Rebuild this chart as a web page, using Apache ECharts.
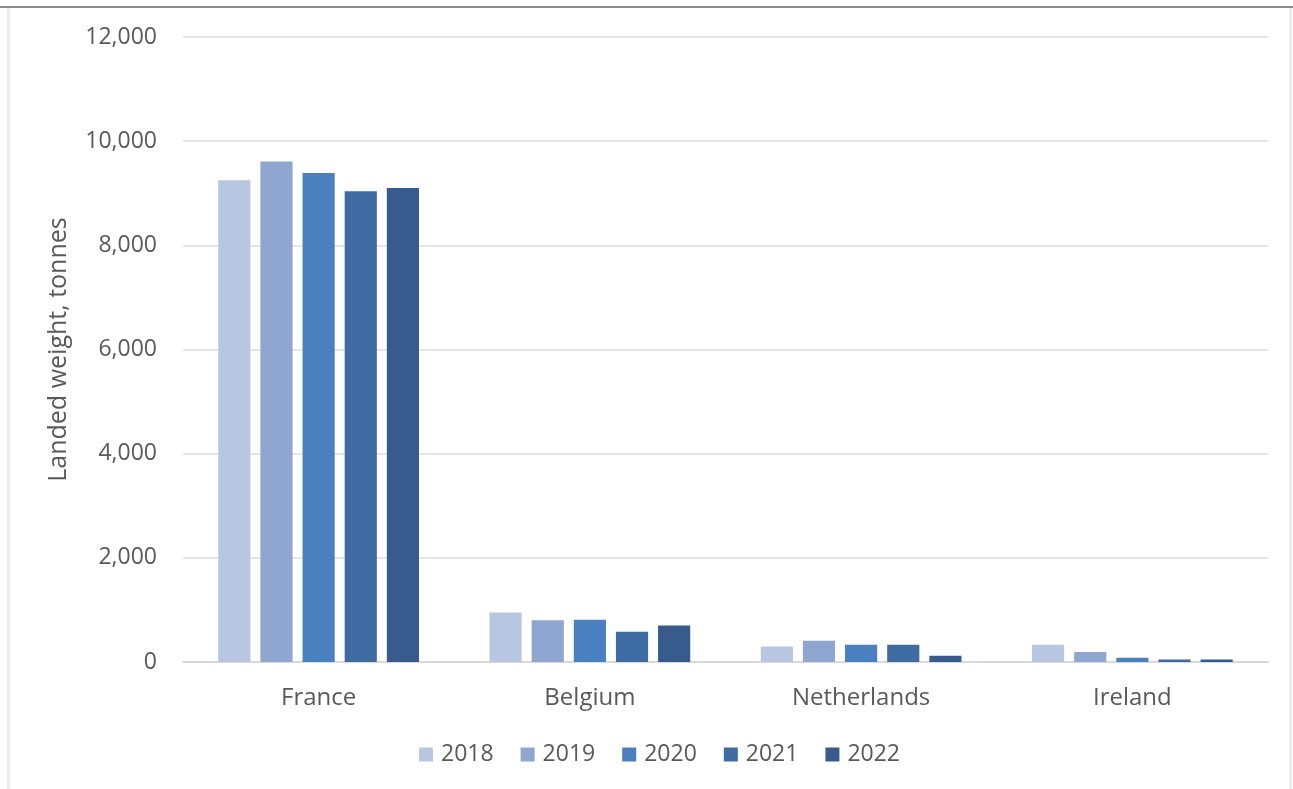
<!DOCTYPE html>
<html>
<head>
<meta charset="utf-8">
<script src="https://cdn.jsdelivr.net/npm/echarts@6/dist/echarts.min.js"></script>
<style>
  html, body { margin: 0; padding: 0; background: #ffffff; }
  #wrap { position: relative; width: 1293px; height: 789px; overflow: hidden; }
  #chart { position: absolute; left: 0; top: 0; width: 1293px; height: 789px; }
  .edge-top { position: absolute; left: 0; top: 6px; width: 1293px; height: 2px; background: #8c8c8c; }
  .edge-left { position: absolute; left: 7px; top: 8px; width: 3px; height: 781px; background: #ececec; }
  .edge-right { position: absolute; left: 1289px; top: 8px; width: 3px; height: 781px; background: #ececec; }
</style>
</head>
<body>
<div id="wrap">
  <div id="chart"></div>
  <div class="edge-top"></div>
  <div class="edge-left"></div>
  <div class="edge-right"></div>
</div>
<script>
// Landed weight by destination country, tonnes
const countries = ['France', 'Belgium', 'Netherlands', 'Ireland'];
const years = ['2018', '2019', '2020', '2021', '2022'];
const landed2018 = [9250, 950, 300, 330];
const landed2019 = [9610, 800, 410, 190];
const landed2020 = [9390, 810, 330, 80];
const landed2021 = [9040, 580, 330, 50];
const landed2022 = [9100, 700, 120, 50];
const yTicks = [0, 2000, 4000, 6000, 8000, 10000, 12000];

const seriesValues = [landed2018, landed2019, landed2020, landed2021, landed2022];
const palette = ['#b7c7e1', '#8fa6d0', '#4a7fc0', '#3f6ba3', '#365b8c'];
const textColor = '#595959';
const font = '"Open Sans", "Noto Sans", sans-serif';

const chart = echarts.init(document.getElementById('chart'), null, { renderer: 'canvas' });
chart.setOption({
  animation: false,
  color: palette,
  grid: { left: 183, right: 25, top: 37, bottom: 127, containLabel: false },
  legend: {
    data: years,
    bottom: 18,
    left: 414,
    itemWidth: 14,
    itemHeight: 14,
    itemGap: 27,
    icon: 'rect',
    textStyle: { color: textColor, fontSize: 23, fontFamily: font, padding: [0, 0, 0, 3] }
  },
  xAxis: {
    type: 'category',
    data: countries,
    axisTick: { show: false },
    axisLine: { lineStyle: { color: '#d9d9d9', width: 2 } },
    axisLabel: { color: textColor, fontSize: 24, fontFamily: font, margin: 24 }
  },
  yAxis: {
    type: 'value',
    min: yTicks[0],
    max: yTicks[yTicks.length - 1],
    interval: yTicks[1] - yTicks[0],
    name: 'Landed weight, tonnes',
    nameLocation: 'middle',
    nameGap: 112,
    nameTextStyle: { color: textColor, fontSize: 25, fontFamily: font },
    axisLine: { show: false },
    axisTick: { show: false },
    splitLine: { lineStyle: { color: '#dcdcdc', width: 1.5 } },
    axisLabel: {
      color: textColor, fontSize: 23, fontFamily: font, margin: 26,
      formatter: v => v.toLocaleString('en-US')
    }
  },
  series: years.map((y, i) => ({
    name: y,
    type: 'bar',
    data: seriesValues[i],
    barGap: '31%',
    barCategoryGap: '26%'
  }))
});
</script>
</body>
</html>
